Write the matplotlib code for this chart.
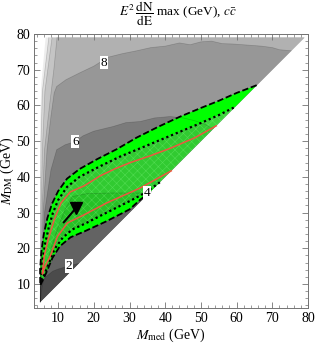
import matplotlib.pyplot as plt
from matplotlib.path import Path
from matplotlib.patches import PathPatch

plt.rcParams['font.family'] = ['Liberation Serif', 'DejaVu Serif']
plt.rcParams['mathtext.fontset'] = 'stix'
plt.rcParams['hatch.linewidth'] = 0.4

# scanned region (M_med, M_DM)
rand_x = [5.0, 5.0, 5.3, 6.5, 79.0, 5.0]
rand_y = [5.0, 55.0, 66.0, 79.0, 79.0, 5.0]

# contour lines of E^2 dN/dE max (from the picture), highest level first
c14_x = [5.0, 5.05, 5.2, 5.6, 7.4]
c14_y = [5.0, 30.0, 50.0, 64.0, 79.0]
c12_x = [5.0, 5.2, 5.6, 6.3, 8.3]
c12_y = [5.0, 30.0, 47.6, 64.0, 79.0]
c10_x = [5.0, 5.5, 6.2, 7.6, 8.8, 9.7]
c10_y = [5.0, 30.0, 47.6, 60.0, 70.0, 79.0]
c8_x = [5.0, 5.8, 6.9, 8.0, 8.9, 9.6, 12.2, 16.2, 20, 24, 28, 32, 36, 40, 44, 47, 50, 53, 56, 59, 63, 67, 70, 72, 75.3]
c8_y = [5.0, 30.0, 47.6, 57.0, 63.5, 65.3, 67.2, 69.2, 71.0, 73.5, 74.5, 75.3, 76.2, 76.6, 77.5, 77.0, 77.8,
        78.0, 77.3, 77.2, 76.9, 76.6, 76.2, 75.6, 75.3]
c6_x = [5.0, 6.2, 8.0, 9.6, 12.0, 14.8, 17, 20, 25.4, 29, 33, 37, 41.4, 45, 48, 51, 53.5]
c6_y = [5.0, 30.0, 42.0, 47.6, 49.0, 49.9, 51.5, 52.8, 54.1, 55.2, 55.5, 56.5, 56.9, 56.5, 55.8, 54.8, 53.5]
c4_x = [5.0, 5.5, 6.5, 8.0, 10.0, 12.0, 14.0, 18.0, 25.0, 30.0, 35.5]
c4_y = [5.0, 9.0, 14.0, 20.0, 26.0, 31.0, 34.5, 35.3, 35.5, 35.5, 35.5]
c2_x = [5.0, 5.0, 6.5, 8.5, 10.0, 13.1, 15.8]
c2_y = [5.0, 9.5, 12.0, 13.6, 14.2, 15.1, 15.8]

band_colors = ['#ededed', '#d9d9d9', '#c4c4c4', '#b1b1b1', '#979797', '#7b7b7b', '#636363', '#4b4b4b']

# labelled contours
lab_txt = ['8', '6', '4', '2']
lab_x = [22.9, 14.8, 34.9, 13.1]
lab_y = [72.0, 49.9, 35.5, 15.1]

# fit region: outer (dashed) and inner (dotted) boundaries, red line
upd_x = [5.0, 4.95, 5.3, 6.0, 7.0, 8.3, 10.0, 12.5, 16.0, 21.0, 26.5, 32.0, 38.0, 44.0, 50.0, 55.0, 60.0, 65.7]
upd_y = [9.6, 14.0, 19.0, 24.0, 28.5, 32.5, 36.0, 39.5, 42.2, 45.0, 47.8, 51.0, 54.0, 56.8, 59.3, 61.3, 63.5, 65.7]
lod_x = [5.0, 6.6, 8.4, 10.5, 13.5, 17.5, 23.6, 30.0, 33.0, 36.0]
lod_y = [9.6, 13.0, 17.3, 20.6, 23.1, 24.8, 27.6, 30.9, 33.6, 36.0]
upt_x = [5.3, 5.5, 6.3, 7.3, 8.5, 10.0, 12.5, 16.0, 21.8, 27.4, 33.0, 41.4, 49.8, 55.0, 59.6]
upt_y = [10.6, 16.0, 21.0, 25.5, 29.8, 33.5, 37.2, 40.0, 43.0, 45.7, 48.0, 51.5, 55.0, 57.3, 59.6]
lot_x = [5.3, 7.3, 9.0, 11.3, 14.0, 17.5, 23.6, 30.0, 34.5, 38.5]
lot_y = [10.6, 15.5, 19.8, 23.0, 25.3, 26.9, 30.0, 33.2, 35.6, 38.5]
upr_x = [5.6, 6.1, 7.2, 8.9, 10.8, 13.4, 17.3, 21.8, 26.0, 30.2, 35.8, 41.4, 48.4, 54.3]
upr_y = [12.8, 17.7, 22.4, 28.0, 32.7, 35.8, 37.5, 40.3, 42.3, 44.0, 45.9, 48.0, 51.0, 54.3]
lor_x = [5.6, 5.9, 7.95, 9.8, 12.6, 17.3, 23.6, 33.0, 41.7]
lor_y = [12.8, 14.0, 18.2, 23.3, 27.1, 29.4, 32.7, 36.9, 41.7]

# best fit point
best_x = [11.6, 15.0]
best_y = [27.3, 31.3]

fig = plt.figure(figsize=(3.15, 3.43), dpi=100)
ax = fig.add_axes([34.3 / 315, 35 / 343, 273.7 / 315, 274 / 343])

ax.fill(rand_x, rand_y, color=band_colors[0], lw=0)
contours = [(c14_x, c14_y), (c12_x, c12_y), (c10_x, c10_y), (c8_x, c8_y),
            (c6_x, c6_y), (c4_x, c4_y), (c2_x, c2_y)]
for (cx, cy), col in zip(contours, band_colors[1:]):
    px, py = list(cx), list(cy)
    if py[-1] >= 78.9:
        px.append(79.0)
        py.append(79.0)
    ax.fill(px, py, color=col, lw=0)
    ax.plot(cx, cy, color=(0, 0, 0, 0.18), lw=0.5)

# bright green ring between dashed and dotted lines
outer = list(zip(upd_x, upd_y)) + list(zip(lod_x, lod_y))[::-1]
inner = list(zip(lot_x, lot_y)) + list(zip(upt_x, upt_y))[::-1]
verts = outer + [outer[0]] + inner + [inner[0]]
codes = ([Path.MOVETO] + [Path.LINETO] * (len(outer) - 1) + [Path.CLOSEPOLY]
         + [Path.MOVETO] + [Path.LINETO] * (len(inner) - 1) + [Path.CLOSEPOLY])
ax.add_patch(PathPatch(Path(verts, codes), facecolor='#00ff00', edgecolor='none'))

ix = [p[0] for p in inner]
iy = [p[1] for p in inner]
ax.fill(ix, iy, color=(0.0, 1.0, 0.0, 0.6), lw=0)
ax.fill(ix, iy, facecolor='none', edgecolor=(0.55, 1.0, 0.55, 0.35), hatch='xxxx', lw=0)

ax.plot(lod_x[::-1] + upd_x, lod_y[::-1] + upd_y, color='black', lw=1.3, ls=(0, (3.5, 1.5)))
ax.plot(lot_x[::-1] + upt_x, lot_y[::-1] + upt_y, color='black', lw=1.6, ls=(0, (1, 1.3)))
ax.plot(lor_x[::-1] + upr_x, lor_y[::-1] + upr_y, color='#f0553f', lw=1.1)

ax.plot(best_x, best_y, color='black', lw=1.5)
ax.plot(best_x[-1:], best_y[-1:], marker='v', color='black', ms=8, ls='none')

for t, x, y in zip(lab_txt, lab_x, lab_y):
    ax.text(x, y, t, ha='center', va='center', fontsize=9.5,
            bbox=dict(facecolor='white', edgecolor='none', pad=0.6))

ax.set_xlim(3.33, 80)
ax.set_ylim(3.3, 80)
ax.set_xticks(range(10, 81, 10))
ax.set_yticks(range(10, 81, 10))
ax.set_xticks(range(4, 81, 2), minor=True)
ax.set_yticks(range(4, 81, 2), minor=True)
ax.tick_params(which='both', direction='in', top=True, right=True, color='0.45',
               labelsize=10, pad=3)
ax.tick_params(which='major', length=4, width=0.6)
ax.tick_params(which='minor', length=2, width=0.5)
for s in ax.spines.values():
    s.set_color('0.45')
    s.set_linewidth(0.7)

ax.set_xlabel(r'$M_{\mathrm{med}}$ (GeV)', fontsize=10, labelpad=1)
ax.set_ylabel(r'$M_{\mathrm{DM}}$ (GeV)', fontsize=10, labelpad=0)
fig.text(0.565, 0.958, r'$E^2\,\dfrac{\mathrm{dN}}{\mathrm{dE}}$ max (GeV), $c\bar{c}$',
         fontsize=9.5, ha='center', va='center')

fig.savefig('out.png', dpi=100)
